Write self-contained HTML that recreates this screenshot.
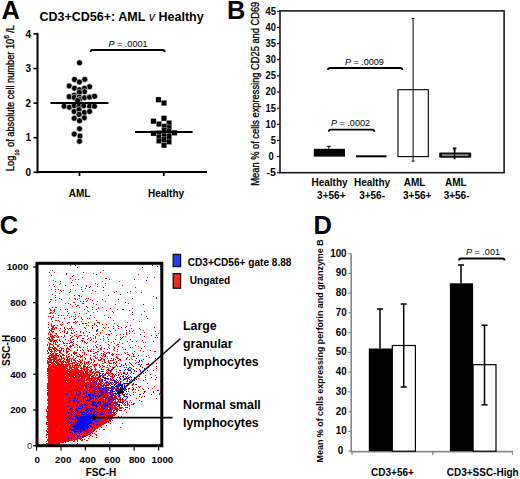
<!DOCTYPE html>
<html><head><meta charset="utf-8"><style>
html,body{margin:0;padding:0;background:#fff;width:520px;height:479px;overflow:hidden}
svg{display:block}
text{font-family:"Liberation Sans",sans-serif;fill:#000}
</style></head><body>
<svg width="520" height="479" viewBox="0 0 520 479">
<text x="1.6" y="19.0" font-size="25.5" font-weight="bold" text-anchor="start" >A</text>
<text x="39.4" y="21.4" font-size="12.5" font-weight="bold" textLength="164.3" lengthAdjust="spacingAndGlyphs">CD3+CD56+: AML <tspan font-style="italic" font-weight="normal">v</tspan> Healthy</text>
<path d="M37.5 32.8 V173.3" stroke="#000" stroke-width="2"/>
<path d="M36.5 172.0 H207" stroke="#000" stroke-width="2.2"/>
<path d="M33.5 172.3 H37.5" stroke="#000" stroke-width="1.6"/>
<text x="31" y="175.9" font-size="10" font-weight="bold" text-anchor="end" >0</text>
<path d="M33.5 137.7 H37.5" stroke="#000" stroke-width="1.6"/>
<text x="31" y="141.3" font-size="10" font-weight="bold" text-anchor="end" >1</text>
<path d="M33.5 103.1 H37.5" stroke="#000" stroke-width="1.6"/>
<text x="31" y="106.7" font-size="10" font-weight="bold" text-anchor="end" >2</text>
<path d="M33.5 68.5 H37.5" stroke="#000" stroke-width="1.6"/>
<text x="31" y="72.1" font-size="10" font-weight="bold" text-anchor="end" >3</text>
<path d="M33.5 33.9 H37.5" stroke="#000" stroke-width="1.6"/>
<text x="31" y="37.50000000000001" font-size="10" font-weight="bold" text-anchor="end" >4</text>
<path d="M79.5 172.3 V176" stroke="#000" stroke-width="1.8"/>
<path d="M163.8 172.3 V176" stroke="#000" stroke-width="1.8"/>
<text x="79.5" y="196.5" font-size="10" font-weight="bold" text-anchor="middle" >AML</text>
<text x="166" y="196.5" font-size="10" font-weight="bold" text-anchor="middle" >Healthy</text>
<text transform="translate(13.5,171) rotate(-90)" font-size="10" style="stroke:#000;stroke-width:0.3" textLength="146" lengthAdjust="spacingAndGlyphs">Log<tspan font-size="6" dy="5.5">10</tspan><tspan dy="-5.5"> of absolute cell number 10</tspan><tspan font-size="7" dy="-4.5">6</tspan><tspan dy="4.5"> /L</tspan></text>
<path d="M90.6 52 Q90.6 50 92.6 50 H162.6 Q164.6 50 164.6 52" fill="none" stroke="#000" stroke-width="2"/>
<text x="108.5" y="46.5" font-size="9.05"><tspan font-style="italic">P</tspan> = .0001</text>
<circle cx="79.5" cy="62.8" r="3.0" stroke="#fff" stroke-width="0.6"/>
<circle cx="74.5" cy="79.5" r="3.0" stroke="#fff" stroke-width="0.6"/>
<circle cx="84.8" cy="79.4" r="3.0" stroke="#fff" stroke-width="0.6"/>
<circle cx="79.4" cy="82.1" r="3.0" stroke="#fff" stroke-width="0.6"/>
<circle cx="69.2" cy="85.9" r="3.0" stroke="#fff" stroke-width="0.6"/>
<circle cx="89.6" cy="86.7" r="3.0" stroke="#fff" stroke-width="0.6"/>
<circle cx="74.5" cy="88.2" r="3.0" stroke="#fff" stroke-width="0.6"/>
<circle cx="79.4" cy="89.8" r="3.0" stroke="#fff" stroke-width="0.6"/>
<circle cx="84.5" cy="88.2" r="3.0" stroke="#fff" stroke-width="0.6"/>
<circle cx="84.5" cy="91.7" r="3.0" stroke="#fff" stroke-width="0.6"/>
<circle cx="79.4" cy="92.5" r="3.0" stroke="#fff" stroke-width="0.6"/>
<circle cx="69.2" cy="96.7" r="3.0" stroke="#fff" stroke-width="0.6"/>
<circle cx="74.2" cy="95.2" r="3.0" stroke="#fff" stroke-width="0.6"/>
<circle cx="74.2" cy="97.5" r="3.0" stroke="#fff" stroke-width="0.6"/>
<circle cx="79.2" cy="97.1" r="3.0" stroke="#fff" stroke-width="0.6"/>
<circle cx="79.6" cy="99.4" r="3.0" stroke="#fff" stroke-width="0.6"/>
<circle cx="84.5" cy="97.8" r="3.0" stroke="#fff" stroke-width="0.6"/>
<circle cx="89.6" cy="97.1" r="3.0" stroke="#fff" stroke-width="0.6"/>
<circle cx="94.6" cy="96.3" r="3.0" stroke="#fff" stroke-width="0.6"/>
<circle cx="77.7" cy="100.5" r="3.0" stroke="#fff" stroke-width="0.6"/>
<circle cx="64.1" cy="106.25" r="3.0" stroke="#fff" stroke-width="0.6"/>
<circle cx="69.4" cy="107.2" r="3.0" stroke="#fff" stroke-width="0.6"/>
<circle cx="74.2" cy="105.8" r="3.0" stroke="#fff" stroke-width="0.6"/>
<circle cx="79" cy="106.25" r="3.0" stroke="#fff" stroke-width="0.6"/>
<circle cx="83.8" cy="105.8" r="3.0" stroke="#fff" stroke-width="0.6"/>
<circle cx="89.6" cy="106.25" r="3.0" stroke="#fff" stroke-width="0.6"/>
<circle cx="94.4" cy="106.25" r="3.0" stroke="#fff" stroke-width="0.6"/>
<circle cx="74.2" cy="111.5" r="3.0" stroke="#fff" stroke-width="0.6"/>
<circle cx="79" cy="109.6" r="3.0" stroke="#fff" stroke-width="0.6"/>
<circle cx="84.3" cy="112.5" r="3.0" stroke="#fff" stroke-width="0.6"/>
<circle cx="89.6" cy="111.5" r="3.0" stroke="#fff" stroke-width="0.6"/>
<circle cx="79" cy="114.4" r="3.0" stroke="#fff" stroke-width="0.6"/>
<circle cx="74.2" cy="118.3" r="3.0" stroke="#fff" stroke-width="0.6"/>
<circle cx="84.3" cy="117.8" r="3.0" stroke="#fff" stroke-width="0.6"/>
<circle cx="79.5" cy="120.7" r="3.0" stroke="#fff" stroke-width="0.6"/>
<circle cx="79.5" cy="128.8" r="3.0" stroke="#fff" stroke-width="0.6"/>
<circle cx="74.2" cy="134.1" r="3.0" stroke="#fff" stroke-width="0.6"/>
<circle cx="80" cy="136.1" r="3.0" stroke="#fff" stroke-width="0.6"/>
<circle cx="79.5" cy="141.3" r="3.0" stroke="#fff" stroke-width="0.6"/>
<rect x="155.75" y="96.95" width="5.5" height="5.5" stroke="#fff" stroke-width="0.3"/>
<rect x="161.25" y="100.25" width="5.5" height="5.5" stroke="#fff" stroke-width="0.3"/>
<rect x="150.75" y="118.45" width="5.5" height="5.5" stroke="#fff" stroke-width="0.3"/>
<rect x="161.25" y="115.55" width="5.5" height="5.5" stroke="#fff" stroke-width="0.3"/>
<rect x="156.25" y="121.25" width="5.5" height="5.5" stroke="#fff" stroke-width="0.3"/>
<rect x="166.25" y="120.25" width="5.5" height="5.5" stroke="#fff" stroke-width="0.3"/>
<rect x="161.55" y="123.55" width="5.5" height="5.5" stroke="#fff" stroke-width="0.3"/>
<rect x="166.25" y="124.95" width="5.5" height="5.5" stroke="#fff" stroke-width="0.3"/>
<rect x="161.55" y="127.65" width="5.5" height="5.5" stroke="#fff" stroke-width="0.3"/>
<rect x="150.75" y="130.55" width="5.5" height="5.5" stroke="#fff" stroke-width="0.3"/>
<rect x="156.25" y="130.25" width="5.5" height="5.5" stroke="#fff" stroke-width="0.3"/>
<rect x="166.25" y="128.95" width="5.5" height="5.5" stroke="#fff" stroke-width="0.3"/>
<rect x="171.65" y="130.05" width="5.5" height="5.5" stroke="#fff" stroke-width="0.3"/>
<rect x="156.25" y="134.35" width="5.5" height="5.5" stroke="#fff" stroke-width="0.3"/>
<rect x="161.55" y="133.05" width="5.5" height="5.5" stroke="#fff" stroke-width="0.3"/>
<rect x="166.25" y="133.65" width="5.5" height="5.5" stroke="#fff" stroke-width="0.3"/>
<rect x="161.25" y="136.75" width="5.5" height="5.5" stroke="#fff" stroke-width="0.3"/>
<rect x="156.25" y="138.15" width="5.5" height="5.5" stroke="#fff" stroke-width="0.3"/>
<rect x="166.25" y="139.05" width="5.5" height="5.5" stroke="#fff" stroke-width="0.3"/>
<rect x="161.25" y="142.45" width="5.5" height="5.5" stroke="#fff" stroke-width="0.3"/>
<path d="M50.5 103 H108.5" stroke="#000" stroke-width="2"/>
<path d="M135 132.1 H192.6" stroke="#000" stroke-width="2"/>
<text x="226.9" y="18.5" font-size="25.5" font-weight="bold" text-anchor="start" >B</text>
<text transform="translate(258.5,185.7) rotate(-90)" font-size="10.2" style="stroke:#000;stroke-width:0.3" textLength="184" lengthAdjust="spacingAndGlyphs">Mean % of cells expressing CD25 and CD69</text>
<rect x="280" y="10.9" width="224.1" height="161.8" fill="none" stroke="#1a1a1a" stroke-width="1.6"/>
<path d="M277 172.8 H280" stroke="#1a1a1a" stroke-width="1.2"/>
<text x="276" y="176.15" font-size="10.2" font-weight="bold" text-anchor="end" textLength="9.5" lengthAdjust="spacingAndGlyphs">-5</text>
<path d="M277 156.6 H280" stroke="#1a1a1a" stroke-width="1.2"/>
<text x="273.8" y="160.0" font-size="10.2" font-weight="bold" text-anchor="end" textLength="5.2" lengthAdjust="spacingAndGlyphs">0</text>
<path d="M277 140.4 H280" stroke="#1a1a1a" stroke-width="1.2"/>
<text x="276" y="143.85" font-size="10.2" font-weight="bold" text-anchor="end" textLength="5.2" lengthAdjust="spacingAndGlyphs">5</text>
<path d="M277 124.3 H280" stroke="#1a1a1a" stroke-width="1.2"/>
<text x="276" y="127.7" font-size="10.2" font-weight="bold" text-anchor="end" textLength="10.4" lengthAdjust="spacingAndGlyphs">10</text>
<path d="M277 108.2 H280" stroke="#1a1a1a" stroke-width="1.2"/>
<text x="276" y="111.55000000000001" font-size="10.2" font-weight="bold" text-anchor="end" textLength="10.4" lengthAdjust="spacingAndGlyphs">15</text>
<path d="M277 92.0 H280" stroke="#1a1a1a" stroke-width="1.2"/>
<text x="276" y="95.4" font-size="10.2" font-weight="bold" text-anchor="end" textLength="10.4" lengthAdjust="spacingAndGlyphs">20</text>
<path d="M277 75.9 H280" stroke="#1a1a1a" stroke-width="1.2"/>
<text x="276" y="79.25000000000001" font-size="10.2" font-weight="bold" text-anchor="end" textLength="10.4" lengthAdjust="spacingAndGlyphs">25</text>
<path d="M277 59.7 H280" stroke="#1a1a1a" stroke-width="1.2"/>
<text x="276" y="63.1" font-size="10.2" font-weight="bold" text-anchor="end" textLength="10.4" lengthAdjust="spacingAndGlyphs">30</text>
<path d="M277 43.6 H280" stroke="#1a1a1a" stroke-width="1.2"/>
<text x="276" y="46.95000000000001" font-size="10.2" font-weight="bold" text-anchor="end" textLength="10.4" lengthAdjust="spacingAndGlyphs">35</text>
<path d="M277 27.4 H280" stroke="#1a1a1a" stroke-width="1.2"/>
<text x="276" y="30.800000000000004" font-size="10.2" font-weight="bold" text-anchor="end" textLength="10.4" lengthAdjust="spacingAndGlyphs">40</text>
<path d="M277 11.3 H280" stroke="#1a1a1a" stroke-width="1.2"/>
<text x="276" y="14.650000000000029" font-size="10.2" font-weight="bold" text-anchor="end" textLength="10.4" lengthAdjust="spacingAndGlyphs">45</text>
<rect x="313.8" y="148.8" width="31.2" height="7.8" fill="#000"/>
<path d="M328.8 146.3 V148.8 M326.8 146.3 H330.8" stroke="#000" stroke-width="1"/>
<rect x="356" y="155.3" width="30.5" height="2" fill="#000"/>
<rect x="398" y="89.7" width="30.3" height="66.9" fill="#fff" stroke="#000" stroke-width="1.1"/>
<path d="M413.1 18.4 V161.1 M411.6 18.4 H414.6 M411.6 161.1 H414.6" stroke="#000" stroke-width="1"/>
<rect x="439.2" y="152.4" width="32" height="5.4" fill="#111" rx="1.2"/>
<path d="M442 155.1 H468.5" stroke="#e0e0e0" stroke-width="1"/>
<path d="M454.6 147.8 V159.2 M452.8 148.3 H456.4" stroke="#000" stroke-width="1.7"/>
<path d="M328.8 131.7 Q328.8 129.7 330.8 129.7 H372.3 Q374.3 129.7 374.3 131.7" fill="none" stroke="#000" stroke-width="1.8"/>
<text x="331" y="126.2" font-size="9.05"><tspan font-style="italic">P</tspan> = .0002</text>
<path d="M328 70 Q328 68 330 68 H400.4 Q402.4 68 402.4 70" fill="none" stroke="#000" stroke-width="1.8"/>
<text x="344.9" y="64.8" font-size="9.05"><tspan font-style="italic">P</tspan> = .0009</text>
<text x="329.5" y="185.6" font-size="10" font-weight="bold" text-anchor="middle" >Healthy</text>
<text x="331.3" y="198.6" font-size="10" font-weight="bold" text-anchor="middle" >3+56+</text>
<text x="372" y="185.6" font-size="10" font-weight="bold" text-anchor="middle" >Healthy</text>
<text x="372.1" y="198.6" font-size="10" font-weight="bold" text-anchor="middle" >3+56-</text>
<text x="414.6" y="185.6" font-size="10" font-weight="bold" text-anchor="middle" >AML</text>
<text x="417.2" y="198.6" font-size="10" font-weight="bold" text-anchor="middle" >3+56+</text>
<text x="455.9" y="185.6" font-size="10" font-weight="bold" text-anchor="middle" >AML</text>
<text x="456.6" y="198.6" font-size="10" font-weight="bold" text-anchor="middle" >3+56-</text>
<text x="-0.2" y="234.0" font-size="25.5" font-weight="bold" text-anchor="start" >C</text>
<g><path fill="#ff0000" d="M70 265h1v1h-1zM75 265h1v1h-1zM152 265h1v1h-1zM52 270h1v1h-1zM103 270h1v1h-1zM49 272h1v1h-1zM54 272h1v1h-1zM83 272h1v1h-1zM100 272h1v1h-1zM66 273h1v1h-1zM93 273h1v1h-1zM66 274h1v1h-1zM138 274h1v1h-1zM51 275h1v1h-1zM73 275h1v1h-1zM72 276h1v1h-1zM82 277h1v1h-1zM147 277h1v1h-1zM154 277h1v1h-1zM70 278h1v1h-1zM106 278h1v1h-1zM75 279h1v1h-1zM78 279h1v1h-1zM109 279h1v1h-1zM53 280h1v1h-1zM72 280h1v1h-1zM55 281h1v1h-1zM60 281h1v1h-1zM102 281h1v1h-1zM119 281h1v1h-1zM71 282h1v1h-1zM60 283h1v1h-1zM95 283h1v1h-1zM105 283h1v1h-1zM53 284h1v1h-1zM59 284h1v1h-1zM77 284h1v1h-1zM97 284h1v1h-1zM49 285h1v1h-1zM73 285h1v1h-1zM86 285h1v1h-1zM122 285h1v1h-1zM54 286h1v1h-1zM90 286h1v1h-1zM97 286h1v1h-1zM81 287h1v1h-1zM89 287h1v1h-1zM135 287h1v1h-1zM85 288h1v1h-1zM51 289h1v1h-1zM55 289h1v1h-1zM58 289h1v1h-1zM70 289h1v1h-1zM81 289h1v1h-1zM60 290h1v1h-1zM63 290h1v1h-1zM75 290h1v1h-1zM92 290h1v1h-1zM103 290h1v1h-1zM55 291h1v1h-1zM61 291h1v1h-1zM70 291h1v1h-1zM82 291h1v1h-1zM95 291h1v1h-1zM116 291h1v1h-1zM130 291h1v1h-1zM69 292h1v1h-1zM114 292h1v1h-1zM127 292h1v1h-1zM141 292h1v1h-1zM59 293h1v1h-1zM91 293h1v1h-1zM52 294h1v1h-1zM55 295h1v1h-1zM74 295h1v1h-1zM78 295h2v1h-2zM108 295h1v1h-1zM79 296h1v1h-1zM81 296h1v1h-1zM153 296h1v1h-1zM55 297h1v1h-1zM156 297h1v1h-1zM59 298h1v1h-1zM69 298h1v1h-1zM74 298h2v1h-2zM79 298h1v1h-1zM86 298h1v1h-1zM88 298h1v1h-1zM50 299h2v1h-2zM61 299h1v1h-1zM75 299h1v1h-1zM77 299h1v1h-1zM85 299h1v1h-1zM90 299h1v1h-1zM102 299h1v1h-1zM55 300h1v1h-1zM87 300h1v1h-1zM92 300h1v1h-1zM50 301h1v1h-1zM80 301h1v1h-1zM83 301h1v1h-1zM97 301h1v1h-1zM105 301h1v1h-1zM49 302h1v1h-1zM73 302h2v1h-2zM65 303h1v1h-1zM68 303h1v1h-1zM82 303h2v1h-2zM93 303h1v1h-1zM128 303h1v1h-1zM70 304h1v1h-1zM75 304h1v1h-1zM96 304h1v1h-1zM115 304h1v1h-1zM77 305h2v1h-2zM72 306h1v1h-1zM76 306h1v1h-1zM86 306h1v1h-1zM52 307h1v1h-1zM55 307h2v1h-2zM79 307h1v1h-1zM87 307h1v1h-1zM92 307h1v1h-1zM98 307h1v1h-1zM102 307h1v1h-1zM49 308h1v1h-1zM98 308h1v1h-1zM110 308h1v1h-1zM132 308h1v1h-1zM153 308h1v1h-1zM50 309h1v1h-1zM54 309h1v1h-1zM60 309h1v1h-1zM65 309h1v1h-1zM67 309h1v1h-1zM84 309h1v1h-1zM92 309h1v1h-1zM96 309h1v1h-1zM117 309h1v1h-1zM50 310h2v1h-2zM53 310h2v1h-2zM87 310h1v1h-1zM106 310h1v1h-1zM129 310h1v1h-1zM54 311h1v1h-1zM67 311h1v1h-1zM88 311h1v1h-1zM97 311h1v1h-1zM112 311h1v1h-1zM144 311h1v1h-1zM50 312h2v1h-2zM53 312h1v1h-1zM74 312h1v1h-1zM93 312h1v1h-1zM113 312h1v1h-1zM49 313h2v1h-2zM52 313h1v1h-1zM55 313h1v1h-1zM68 313h1v1h-1zM79 313h1v1h-1zM86 313h1v1h-1zM75 314h1v1h-1zM132 314h1v1h-1zM141 314h1v1h-1zM53 315h1v1h-1zM58 315h1v1h-1zM61 315h1v1h-1zM63 315h1v1h-1zM67 315h1v1h-1zM104 315h1v1h-1zM48 316h1v1h-1zM50 316h1v1h-1zM71 316h1v1h-1zM73 316h1v1h-1zM75 316h1v1h-1zM78 316h1v1h-1zM146 316h1v1h-1zM52 317h2v1h-2zM58 317h1v1h-1zM69 317h1v1h-1zM81 317h1v1h-1zM94 317h1v1h-1zM110 317h1v1h-1zM51 318h1v1h-1zM64 318h1v1h-1zM75 318h1v1h-1zM81 318h1v1h-1zM87 318h1v1h-1zM89 318h1v1h-1zM51 319h1v1h-1zM82 319h1v1h-1zM133 319h1v1h-1zM55 320h2v1h-2zM58 320h1v1h-1zM96 320h1v1h-1zM113 320h1v1h-1zM52 321h1v1h-1zM59 321h1v1h-1zM75 321h1v1h-1zM77 321h1v1h-1zM81 321h1v1h-1zM139 321h1v1h-1zM48 322h1v1h-1zM62 322h1v1h-1zM68 322h2v1h-2zM73 322h2v1h-2zM76 322h1v1h-1zM88 322h1v1h-1zM97 322h3v1h-3zM127 322h1v1h-1zM51 323h1v1h-1zM67 323h1v1h-1zM75 323h1v1h-1zM82 323h2v1h-2zM85 323h2v1h-2zM94 323h1v1h-1zM99 323h1v1h-1zM114 323h1v1h-1zM48 324h1v1h-1zM51 324h1v1h-1zM60 324h1v1h-1zM62 324h1v1h-1zM79 324h1v1h-1zM94 324h1v1h-1zM102 324h1v1h-1zM106 324h1v1h-1zM51 325h1v1h-1zM53 325h2v1h-2zM57 325h1v1h-1zM61 325h1v1h-1zM86 325h1v1h-1zM88 325h1v1h-1zM92 325h1v1h-1zM117 325h1v1h-1zM130 325h1v1h-1zM51 326h3v1h-3zM71 326h1v1h-1zM97 326h1v1h-1zM113 326h1v1h-1zM118 326h1v1h-1zM126 326h1v1h-1zM48 327h1v1h-1zM52 327h2v1h-2zM55 327h2v1h-2zM64 327h1v1h-1zM71 327h1v1h-1zM84 327h1v1h-1zM103 327h1v1h-1zM105 327h1v1h-1zM108 327h1v1h-1zM125 327h1v1h-1zM154 327h1v1h-1zM51 328h2v1h-2zM54 328h1v1h-1zM56 328h1v1h-1zM60 328h1v1h-1zM64 328h1v1h-1zM69 328h2v1h-2zM72 328h1v1h-1zM85 328h1v1h-1zM92 328h1v1h-1zM104 328h1v1h-1zM113 328h1v1h-1zM118 328h1v1h-1zM131 328h1v1h-1zM139 328h1v1h-1zM49 329h1v1h-1zM51 329h4v1h-4zM65 329h1v1h-1zM68 329h1v1h-1zM97 329h1v1h-1zM140 329h1v1h-1zM50 330h2v1h-2zM59 330h1v1h-1zM64 330h1v1h-1zM71 330h1v1h-1zM73 330h1v1h-1zM97 330h1v1h-1zM102 330h1v1h-1zM109 330h1v1h-1zM115 330h1v1h-1zM129 330h1v1h-1zM133 330h1v1h-1zM143 330h1v1h-1zM49 331h1v1h-1zM51 331h3v1h-3zM62 331h1v1h-1zM64 331h1v1h-1zM67 331h1v1h-1zM76 331h1v1h-1zM80 331h1v1h-1zM86 331h1v1h-1zM96 331h1v1h-1zM110 331h1v1h-1zM129 331h1v1h-1zM49 332h1v1h-1zM52 332h1v1h-1zM60 332h1v1h-1zM64 332h1v1h-1zM67 332h1v1h-1zM71 332h1v1h-1zM74 332h1v1h-1zM80 332h1v1h-1zM83 332h1v1h-1zM100 332h1v1h-1zM126 332h1v1h-1zM144 332h1v1h-1zM48 333h1v1h-1zM50 333h1v1h-1zM55 333h2v1h-2zM66 333h2v1h-2zM71 333h2v1h-2zM83 333h1v1h-1zM97 333h1v1h-1zM100 333h1v1h-1zM111 333h1v1h-1zM126 333h1v1h-1zM129 333h1v1h-1zM134 333h1v1h-1zM158 333h1v1h-1zM48 334h1v1h-1zM50 334h2v1h-2zM56 334h1v1h-1zM76 334h1v1h-1zM96 334h1v1h-1zM106 334h1v1h-1zM108 334h2v1h-2zM120 334h1v1h-1zM123 334h1v1h-1zM126 334h1v1h-1zM50 335h1v1h-1zM52 335h1v1h-1zM54 335h2v1h-2zM57 335h1v1h-1zM64 335h1v1h-1zM70 335h1v1h-1zM74 335h1v1h-1zM79 335h3v1h-3zM84 335h1v1h-1zM87 335h1v1h-1zM93 335h1v1h-1zM99 335h1v1h-1zM109 335h1v1h-1zM116 335h1v1h-1zM151 335h1v1h-1zM156 335h1v1h-1zM50 336h4v1h-4zM56 336h1v1h-1zM58 336h1v1h-1zM61 336h1v1h-1zM72 336h1v1h-1zM76 336h1v1h-1zM78 336h1v1h-1zM87 336h1v1h-1zM95 336h1v1h-1zM103 336h1v1h-1zM123 336h1v1h-1zM125 336h1v1h-1zM144 336h1v1h-1zM48 337h2v1h-2zM51 337h4v1h-4zM57 337h2v1h-2zM63 337h1v1h-1zM71 337h1v1h-1zM77 337h1v1h-1zM90 337h1v1h-1zM95 337h1v1h-1zM107 337h1v1h-1zM120 337h1v1h-1zM122 337h1v1h-1zM155 337h1v1h-1zM157 337h1v1h-1zM47 338h1v1h-1zM49 338h1v1h-1zM51 338h2v1h-2zM70 338h1v1h-1zM82 338h2v1h-2zM88 338h1v1h-1zM93 338h1v1h-1zM95 338h1v1h-1zM103 338h1v1h-1zM121 338h1v1h-1zM48 339h3v1h-3zM52 339h2v1h-2zM57 339h1v1h-1zM59 339h1v1h-1zM65 339h1v1h-1zM72 339h2v1h-2zM87 339h1v1h-1zM91 339h1v1h-1zM100 339h1v1h-1zM108 339h1v1h-1zM115 339h1v1h-1zM120 339h1v1h-1zM130 339h1v1h-1zM49 340h4v1h-4zM54 340h3v1h-3zM59 340h1v1h-1zM68 340h1v1h-1zM81 340h2v1h-2zM90 340h1v1h-1zM103 340h1v1h-1zM142 340h1v1h-1zM50 341h2v1h-2zM53 341h2v1h-2zM56 341h1v1h-1zM60 341h1v1h-1zM62 341h1v1h-1zM71 341h1v1h-1zM73 341h1v1h-1zM77 341h1v1h-1zM82 341h1v1h-1zM84 341h1v1h-1zM93 341h1v1h-1zM96 341h1v1h-1zM108 341h1v1h-1zM113 341h1v1h-1zM127 341h1v1h-1zM132 341h1v1h-1zM136 341h1v1h-1zM48 342h1v1h-1zM53 342h1v1h-1zM55 342h1v1h-1zM57 342h1v1h-1zM63 342h1v1h-1zM70 342h1v1h-1zM72 342h1v1h-1zM84 342h2v1h-2zM87 342h1v1h-1zM95 342h1v1h-1zM105 342h1v1h-1zM111 342h1v1h-1zM119 342h1v1h-1zM143 342h1v1h-1zM145 342h1v1h-1zM160 342h1v1h-1zM49 343h2v1h-2zM53 343h1v1h-1zM55 343h1v1h-1zM63 343h2v1h-2zM66 343h2v1h-2zM69 343h1v1h-1zM73 343h1v1h-1zM86 343h1v1h-1zM114 343h1v1h-1zM122 343h1v1h-1zM47 344h1v1h-1zM49 344h4v1h-4zM55 344h2v1h-2zM59 344h1v1h-1zM72 344h1v1h-1zM76 344h1v1h-1zM97 344h1v1h-1zM108 344h1v1h-1zM117 344h2v1h-2zM47 345h1v1h-1zM49 345h1v1h-1zM53 345h1v1h-1zM57 345h2v1h-2zM64 345h1v1h-1zM66 345h1v1h-1zM72 345h2v1h-2zM77 345h1v1h-1zM95 345h1v1h-1zM100 345h1v1h-1zM109 345h1v1h-1zM116 345h1v1h-1zM129 345h1v1h-1zM135 345h1v1h-1zM49 346h1v1h-1zM53 346h1v1h-1zM57 346h2v1h-2zM69 346h3v1h-3zM79 346h1v1h-1zM87 346h1v1h-1zM93 346h1v1h-1zM96 346h1v1h-1zM113 346h1v1h-1zM118 346h1v1h-1zM138 346h1v1h-1zM144 346h1v1h-1zM48 347h5v1h-5zM54 347h2v1h-2zM60 347h1v1h-1zM67 347h1v1h-1zM70 347h1v1h-1zM74 347h1v1h-1zM77 347h1v1h-1zM79 347h2v1h-2zM83 347h1v1h-1zM96 347h2v1h-2zM101 347h1v1h-1zM108 347h1v1h-1zM114 347h1v1h-1zM122 347h1v1h-1zM132 347h1v1h-1zM48 348h2v1h-2zM52 348h5v1h-5zM59 348h1v1h-1zM61 348h3v1h-3zM66 348h3v1h-3zM87 348h1v1h-1zM100 348h2v1h-2zM104 348h1v1h-1zM109 348h1v1h-1zM114 348h1v1h-1zM141 348h1v1h-1zM48 349h4v1h-4zM53 349h2v1h-2zM56 349h2v1h-2zM61 349h1v1h-1zM66 349h1v1h-1zM68 349h2v1h-2zM77 349h1v1h-1zM82 349h1v1h-1zM91 349h1v1h-1zM93 349h1v1h-1zM98 349h1v1h-1zM100 349h2v1h-2zM107 349h1v1h-1zM113 349h1v1h-1zM117 349h1v1h-1zM123 349h1v1h-1zM125 349h1v1h-1zM47 350h1v1h-1zM49 350h1v1h-1zM51 350h1v1h-1zM54 350h2v1h-2zM57 350h5v1h-5zM63 350h1v1h-1zM66 350h1v1h-1zM70 350h1v1h-1zM77 350h1v1h-1zM80 350h1v1h-1zM83 350h1v1h-1zM87 350h2v1h-2zM90 350h1v1h-1zM114 350h1v1h-1zM140 350h1v1h-1zM150 350h1v1h-1zM47 351h1v1h-1zM50 351h3v1h-3zM54 351h1v1h-1zM56 351h1v1h-1zM59 351h2v1h-2zM63 351h1v1h-1zM66 351h3v1h-3zM74 351h1v1h-1zM88 351h1v1h-1zM91 351h1v1h-1zM93 351h1v1h-1zM97 351h2v1h-2zM103 351h1v1h-1zM117 351h1v1h-1zM134 351h1v1h-1zM143 351h1v1h-1zM154 351h1v1h-1zM48 352h1v1h-1zM51 352h1v1h-1zM54 352h1v1h-1zM59 352h2v1h-2zM66 352h2v1h-2zM73 352h4v1h-4zM82 352h1v1h-1zM84 352h1v1h-1zM95 352h2v1h-2zM104 352h1v1h-1zM107 352h3v1h-3zM124 352h1v1h-1zM127 352h1v1h-1zM47 353h2v1h-2zM50 353h1v1h-1zM52 353h2v1h-2zM55 353h3v1h-3zM60 353h2v1h-2zM66 353h1v1h-1zM69 353h1v1h-1zM73 353h4v1h-4zM84 353h1v1h-1zM93 353h2v1h-2zM101 353h1v1h-1zM103 353h1v1h-1zM106 353h1v1h-1zM109 353h1v1h-1zM112 353h1v1h-1zM125 353h1v1h-1zM132 353h1v1h-1zM50 354h4v1h-4zM55 354h2v1h-2zM59 354h1v1h-1zM62 354h2v1h-2zM68 354h1v1h-1zM71 354h1v1h-1zM74 354h1v1h-1zM79 354h1v1h-1zM84 354h1v1h-1zM86 354h1v1h-1zM97 354h1v1h-1zM103 354h3v1h-3zM111 354h3v1h-3zM116 354h1v1h-1zM118 354h1v1h-1zM121 354h1v1h-1zM127 354h2v1h-2zM133 354h1v1h-1zM49 355h10v1h-10zM60 355h1v1h-1zM62 355h3v1h-3zM66 355h1v1h-1zM71 355h1v1h-1zM76 355h1v1h-1zM80 355h1v1h-1zM82 355h1v1h-1zM90 355h1v1h-1zM95 355h1v1h-1zM101 355h1v1h-1zM103 355h1v1h-1zM105 355h1v1h-1zM112 355h1v1h-1zM129 355h1v1h-1zM133 355h1v1h-1zM148 355h1v1h-1zM48 356h2v1h-2zM51 356h6v1h-6zM58 356h1v1h-1zM60 356h2v1h-2zM66 356h1v1h-1zM68 356h2v1h-2zM73 356h1v1h-1zM77 356h2v1h-2zM80 356h3v1h-3zM93 356h2v1h-2zM102 356h1v1h-1zM104 356h2v1h-2zM107 356h1v1h-1zM116 356h1v1h-1zM131 356h1v1h-1zM134 356h1v1h-1zM49 357h8v1h-8zM61 357h1v1h-1zM63 357h1v1h-1zM66 357h3v1h-3zM73 357h1v1h-1zM76 357h1v1h-1zM80 357h1v1h-1zM84 357h1v1h-1zM90 357h1v1h-1zM95 357h1v1h-1zM97 357h1v1h-1zM100 357h1v1h-1zM116 357h2v1h-2zM127 357h1v1h-1zM149 357h1v1h-1zM47 358h4v1h-4zM53 358h4v1h-4zM59 358h1v1h-1zM61 358h4v1h-4zM67 358h1v1h-1zM69 358h2v1h-2zM72 358h1v1h-1zM75 358h1v1h-1zM85 358h1v1h-1zM90 358h1v1h-1zM95 358h2v1h-2zM101 358h2v1h-2zM107 358h1v1h-1zM113 358h1v1h-1zM117 358h2v1h-2zM126 358h1v1h-1zM131 358h1v1h-1zM48 359h9v1h-9zM58 359h1v1h-1zM60 359h2v1h-2zM64 359h1v1h-1zM66 359h4v1h-4zM71 359h1v1h-1zM73 359h2v1h-2zM79 359h1v1h-1zM82 359h1v1h-1zM85 359h1v1h-1zM90 359h2v1h-2zM93 359h1v1h-1zM98 359h1v1h-1zM100 359h2v1h-2zM103 359h2v1h-2zM113 359h1v1h-1zM115 359h1v1h-1zM119 359h1v1h-1zM126 359h1v1h-1zM129 359h1v1h-1zM132 359h1v1h-1zM47 360h1v1h-1zM49 360h3v1h-3zM53 360h2v1h-2zM56 360h3v1h-3zM60 360h1v1h-1zM63 360h1v1h-1zM66 360h4v1h-4zM71 360h1v1h-1zM73 360h3v1h-3zM77 360h1v1h-1zM80 360h1v1h-1zM82 360h1v1h-1zM91 360h1v1h-1zM94 360h1v1h-1zM98 360h3v1h-3zM104 360h1v1h-1zM108 360h1v1h-1zM110 360h4v1h-4zM118 360h1v1h-1zM120 360h1v1h-1zM135 360h1v1h-1zM47 361h5v1h-5zM53 361h5v1h-5zM59 361h7v1h-7zM67 361h3v1h-3zM71 361h1v1h-1zM75 361h1v1h-1zM78 361h4v1h-4zM84 361h1v1h-1zM88 361h2v1h-2zM94 361h1v1h-1zM102 361h1v1h-1zM104 361h1v1h-1zM108 361h1v1h-1zM116 361h1v1h-1zM142 361h1v1h-1zM47 362h7v1h-7zM55 362h4v1h-4zM60 362h4v1h-4zM65 362h4v1h-4zM72 362h3v1h-3zM76 362h1v1h-1zM80 362h2v1h-2zM84 362h1v1h-1zM86 362h3v1h-3zM91 362h1v1h-1zM93 362h1v1h-1zM104 362h2v1h-2zM108 362h2v1h-2zM113 362h2v1h-2zM116 362h1v1h-1zM129 362h1v1h-1zM136 362h1v1h-1zM47 363h2v1h-2zM51 363h4v1h-4zM56 363h4v1h-4zM61 363h2v1h-2zM66 363h1v1h-1zM68 363h5v1h-5zM74 363h1v1h-1zM77 363h2v1h-2zM80 363h1v1h-1zM82 363h1v1h-1zM84 363h1v1h-1zM86 363h1v1h-1zM88 363h1v1h-1zM90 363h1v1h-1zM97 363h1v1h-1zM102 363h2v1h-2zM109 363h3v1h-3zM113 363h1v1h-1zM115 363h1v1h-1zM119 363h1v1h-1zM130 363h1v1h-1zM135 363h1v1h-1zM48 364h3v1h-3zM52 364h4v1h-4zM57 364h13v1h-13zM72 364h1v1h-1zM75 364h3v1h-3zM79 364h1v1h-1zM81 364h1v1h-1zM84 364h2v1h-2zM87 364h1v1h-1zM89 364h1v1h-1zM92 364h1v1h-1zM94 364h3v1h-3zM99 364h1v1h-1zM116 364h1v1h-1zM121 364h1v1h-1zM125 364h1v1h-1zM139 364h1v1h-1zM146 364h3v1h-3zM48 365h16v1h-16zM65 365h6v1h-6zM72 365h1v1h-1zM74 365h1v1h-1zM76 365h5v1h-5zM83 365h2v1h-2zM88 365h1v1h-1zM93 365h4v1h-4zM99 365h1v1h-1zM102 365h1v1h-1zM107 365h1v1h-1zM109 365h1v1h-1zM123 365h1v1h-1zM126 365h1v1h-1zM140 365h1v1h-1zM48 366h20v1h-20zM69 366h2v1h-2zM72 366h1v1h-1zM74 366h1v1h-1zM76 366h1v1h-1zM78 366h1v1h-1zM80 366h1v1h-1zM83 366h3v1h-3zM87 366h1v1h-1zM90 366h2v1h-2zM94 366h1v1h-1zM100 366h1v1h-1zM104 366h1v1h-1zM110 366h1v1h-1zM115 366h1v1h-1zM117 366h1v1h-1zM119 366h1v1h-1zM140 366h1v1h-1zM156 366h1v1h-1zM48 367h19v1h-19zM69 367h6v1h-6zM76 367h3v1h-3zM81 367h1v1h-1zM83 367h2v1h-2zM86 367h4v1h-4zM94 367h1v1h-1zM99 367h1v1h-1zM102 367h1v1h-1zM106 367h2v1h-2zM112 367h2v1h-2zM124 367h1v1h-1zM129 367h2v1h-2zM47 368h6v1h-6zM54 368h14v1h-14zM69 368h3v1h-3zM74 368h4v1h-4zM80 368h5v1h-5zM86 368h2v1h-2zM90 368h1v1h-1zM95 368h1v1h-1zM101 368h1v1h-1zM108 368h1v1h-1zM112 368h1v1h-1zM136 368h1v1h-1zM156 368h1v1h-1zM47 369h19v1h-19zM67 369h3v1h-3zM71 369h8v1h-8zM81 369h1v1h-1zM83 369h6v1h-6zM91 369h2v1h-2zM94 369h3v1h-3zM101 369h3v1h-3zM108 369h1v1h-1zM111 369h2v1h-2zM116 369h1v1h-1zM128 369h1v1h-1zM130 369h1v1h-1zM47 370h20v1h-20zM68 370h15v1h-15zM84 370h1v1h-1zM86 370h2v1h-2zM89 370h3v1h-3zM95 370h1v1h-1zM99 370h1v1h-1zM106 370h1v1h-1zM108 370h2v1h-2zM111 370h1v1h-1zM134 370h1v1h-1zM147 370h1v1h-1zM47 371h37v1h-37zM85 371h3v1h-3zM89 371h3v1h-3zM93 371h2v1h-2zM96 371h3v1h-3zM101 371h1v1h-1zM103 371h1v1h-1zM107 371h1v1h-1zM110 371h2v1h-2zM131 371h1v1h-1zM142 371h1v1h-1zM48 372h20v1h-20zM69 372h15v1h-15zM85 372h4v1h-4zM90 372h4v1h-4zM95 372h5v1h-5zM106 372h1v1h-1zM108 372h1v1h-1zM110 372h1v1h-1zM118 372h1v1h-1zM120 372h1v1h-1zM123 372h2v1h-2zM127 372h1v1h-1zM131 372h1v1h-1zM47 373h32v1h-32zM80 373h8v1h-8zM89 373h1v1h-1zM91 373h2v1h-2zM94 373h2v1h-2zM99 373h1v1h-1zM102 373h1v1h-1zM105 373h2v1h-2zM108 373h2v1h-2zM111 373h1v1h-1zM116 373h1v1h-1zM130 373h1v1h-1zM143 373h1v1h-1zM48 374h30v1h-30zM79 374h8v1h-8zM88 374h4v1h-4zM94 374h1v1h-1zM96 374h2v1h-2zM104 374h2v1h-2zM108 374h1v1h-1zM110 374h1v1h-1zM112 374h2v1h-2zM118 374h2v1h-2zM125 374h1v1h-1zM47 375h18v1h-18zM66 375h23v1h-23zM92 375h3v1h-3zM96 375h2v1h-2zM99 375h7v1h-7zM108 375h2v1h-2zM112 375h1v1h-1zM114 375h1v1h-1zM123 375h1v1h-1zM128 375h1v1h-1zM145 375h1v1h-1zM155 375h1v1h-1zM48 376h26v1h-26zM75 376h14v1h-14zM91 376h3v1h-3zM95 376h1v1h-1zM98 376h1v1h-1zM102 376h1v1h-1zM110 376h1v1h-1zM112 376h1v1h-1zM120 376h1v1h-1zM123 376h1v1h-1zM47 377h22v1h-22zM70 377h4v1h-4zM75 377h3v1h-3zM79 377h1v1h-1zM81 377h5v1h-5zM87 377h3v1h-3zM91 377h6v1h-6zM99 377h2v1h-2zM102 377h3v1h-3zM112 377h1v1h-1zM119 377h1v1h-1zM151 377h1v1h-1zM156 377h1v1h-1zM48 378h51v1h-51zM100 378h1v1h-1zM110 378h1v1h-1zM112 378h1v1h-1zM119 378h1v1h-1zM124 378h1v1h-1zM127 378h2v1h-2zM138 378h1v1h-1zM48 379h37v1h-37zM86 379h10v1h-10zM98 379h5v1h-5zM105 379h1v1h-1zM107 379h2v1h-2zM110 379h2v1h-2zM127 379h1v1h-1zM145 379h1v1h-1zM155 379h1v1h-1zM48 380h30v1h-30zM79 380h8v1h-8zM88 380h7v1h-7zM96 380h1v1h-1zM100 380h2v1h-2zM105 380h1v1h-1zM110 380h1v1h-1zM112 380h2v1h-2zM115 380h1v1h-1zM119 380h1v1h-1zM123 380h1v1h-1zM48 381h18v1h-18zM67 381h18v1h-18zM87 381h1v1h-1zM89 381h2v1h-2zM92 381h2v1h-2zM95 381h3v1h-3zM100 381h1v1h-1zM102 381h1v1h-1zM106 381h1v1h-1zM109 381h1v1h-1zM115 381h1v1h-1zM121 381h1v1h-1zM126 381h2v1h-2zM132 381h1v1h-1zM160 381h1v1h-1zM48 382h43v1h-43zM93 382h3v1h-3zM98 382h1v1h-1zM100 382h2v1h-2zM103 382h1v1h-1zM105 382h1v1h-1zM108 382h1v1h-1zM111 382h1v1h-1zM116 382h1v1h-1zM118 382h1v1h-1zM47 383h37v1h-37zM85 383h18v1h-18zM104 383h2v1h-2zM110 383h1v1h-1zM113 383h1v1h-1zM115 383h1v1h-1zM118 383h1v1h-1zM147 383h1v1h-1zM47 384h41v1h-41zM89 384h11v1h-11zM101 384h1v1h-1zM103 384h2v1h-2zM106 384h1v1h-1zM108 384h1v1h-1zM111 384h2v1h-2zM117 384h1v1h-1zM124 384h1v1h-1zM132 384h2v1h-2zM135 384h1v1h-1zM47 385h38v1h-38zM86 385h4v1h-4zM92 385h3v1h-3zM97 385h2v1h-2zM100 385h3v1h-3zM104 385h1v1h-1zM117 385h2v1h-2zM132 385h1v1h-1zM47 386h38v1h-38zM87 386h4v1h-4zM92 386h2v1h-2zM95 386h2v1h-2zM98 386h1v1h-1zM100 386h2v1h-2zM103 386h1v1h-1zM106 386h1v1h-1zM113 386h1v1h-1zM119 386h1v1h-1zM138 386h1v1h-1zM140 386h1v1h-1zM154 386h1v1h-1zM47 387h31v1h-31zM79 387h1v1h-1zM81 387h3v1h-3zM85 387h1v1h-1zM87 387h3v1h-3zM91 387h1v1h-1zM93 387h4v1h-4zM99 387h3v1h-3zM103 387h2v1h-2zM106 387h1v1h-1zM109 387h2v1h-2zM112 387h2v1h-2zM116 387h1v1h-1zM118 387h1v1h-1zM132 387h1v1h-1zM136 387h1v1h-1zM139 387h1v1h-1zM47 388h47v1h-47zM95 388h3v1h-3zM101 388h1v1h-1zM105 388h1v1h-1zM107 388h3v1h-3zM111 388h1v1h-1zM113 388h4v1h-4zM128 388h2v1h-2zM142 388h1v1h-1zM152 388h1v1h-1zM48 389h26v1h-26zM75 389h2v1h-2zM78 389h4v1h-4zM83 389h6v1h-6zM91 389h4v1h-4zM96 389h3v1h-3zM100 389h2v1h-2zM103 389h3v1h-3zM107 389h1v1h-1zM112 389h2v1h-2zM115 389h1v1h-1zM117 389h1v1h-1zM124 389h2v1h-2zM128 389h1v1h-1zM132 389h2v1h-2zM143 389h1v1h-1zM47 390h37v1h-37zM85 390h12v1h-12zM98 390h3v1h-3zM103 390h3v1h-3zM107 390h3v1h-3zM115 390h1v1h-1zM118 390h1v1h-1zM125 390h1v1h-1zM132 390h1v1h-1zM138 390h1v1h-1zM158 390h1v1h-1zM160 390h1v1h-1zM48 391h22v1h-22zM71 391h7v1h-7zM80 391h6v1h-6zM87 391h2v1h-2zM90 391h4v1h-4zM95 391h1v1h-1zM97 391h1v1h-1zM99 391h1v1h-1zM103 391h2v1h-2zM107 391h1v1h-1zM111 391h1v1h-1zM113 391h1v1h-1zM145 391h1v1h-1zM153 391h1v1h-1zM47 392h24v1h-24zM72 392h4v1h-4zM77 392h3v1h-3zM81 392h5v1h-5zM87 392h7v1h-7zM95 392h4v1h-4zM104 392h1v1h-1zM107 392h2v1h-2zM111 392h2v1h-2zM115 392h1v1h-1zM118 392h2v1h-2zM135 392h1v1h-1zM144 392h1v1h-1zM153 392h1v1h-1zM160 392h1v1h-1zM47 393h20v1h-20zM68 393h8v1h-8zM77 393h3v1h-3zM81 393h2v1h-2zM85 393h5v1h-5zM91 393h3v1h-3zM96 393h2v1h-2zM99 393h3v1h-3zM103 393h1v1h-1zM106 393h4v1h-4zM111 393h1v1h-1zM113 393h2v1h-2zM116 393h2v1h-2zM121 393h1v1h-1zM125 393h1v1h-1zM127 393h1v1h-1zM159 393h1v1h-1zM47 394h19v1h-19zM67 394h4v1h-4zM72 394h4v1h-4zM77 394h2v1h-2zM80 394h6v1h-6zM87 394h1v1h-1zM91 394h1v1h-1zM94 394h4v1h-4zM99 394h2v1h-2zM102 394h1v1h-1zM104 394h1v1h-1zM106 394h4v1h-4zM112 394h1v1h-1zM115 394h1v1h-1zM122 394h2v1h-2zM126 394h2v1h-2zM129 394h1v1h-1zM133 394h1v1h-1zM139 394h1v1h-1zM159 394h1v1h-1zM47 395h28v1h-28zM76 395h2v1h-2zM79 395h9v1h-9zM90 395h2v1h-2zM98 395h1v1h-1zM102 395h4v1h-4zM107 395h1v1h-1zM110 395h1v1h-1zM113 395h3v1h-3zM117 395h2v1h-2zM120 395h1v1h-1zM124 395h1v1h-1zM48 396h34v1h-34zM83 396h3v1h-3zM88 396h1v1h-1zM91 396h1v1h-1zM93 396h1v1h-1zM96 396h1v1h-1zM100 396h3v1h-3zM105 396h2v1h-2zM108 396h1v1h-1zM112 396h1v1h-1zM114 396h1v1h-1zM116 396h1v1h-1zM125 396h1v1h-1zM127 396h1v1h-1zM139 396h1v1h-1zM142 396h1v1h-1zM48 397h26v1h-26zM75 397h5v1h-5zM81 397h3v1h-3zM86 397h1v1h-1zM88 397h1v1h-1zM92 397h1v1h-1zM94 397h1v1h-1zM96 397h2v1h-2zM99 397h4v1h-4zM104 397h3v1h-3zM108 397h1v1h-1zM110 397h1v1h-1zM112 397h3v1h-3zM119 397h2v1h-2zM123 397h1v1h-1zM141 397h1v1h-1zM48 398h21v1h-21zM70 398h4v1h-4zM76 398h1v1h-1zM78 398h5v1h-5zM84 398h3v1h-3zM88 398h2v1h-2zM92 398h1v1h-1zM94 398h2v1h-2zM97 398h4v1h-4zM102 398h2v1h-2zM106 398h2v1h-2zM109 398h3v1h-3zM113 398h2v1h-2zM117 398h1v1h-1zM119 398h2v1h-2zM136 398h1v1h-1zM156 398h1v1h-1zM47 399h30v1h-30zM78 399h7v1h-7zM86 399h1v1h-1zM88 399h1v1h-1zM91 399h2v1h-2zM94 399h1v1h-1zM96 399h7v1h-7zM104 399h4v1h-4zM109 399h1v1h-1zM112 399h1v1h-1zM115 399h1v1h-1zM118 399h2v1h-2zM121 399h1v1h-1zM123 399h1v1h-1zM47 400h23v1h-23zM71 400h2v1h-2zM75 400h1v1h-1zM77 400h6v1h-6zM84 400h2v1h-2zM89 400h6v1h-6zM96 400h1v1h-1zM98 400h7v1h-7zM106 400h2v1h-2zM110 400h2v1h-2zM113 400h1v1h-1zM115 400h1v1h-1zM118 400h1v1h-1zM120 400h1v1h-1zM122 400h1v1h-1zM124 400h2v1h-2zM130 400h1v1h-1zM139 400h1v1h-1zM48 401h21v1h-21zM70 401h3v1h-3zM75 401h4v1h-4zM80 401h3v1h-3zM84 401h5v1h-5zM90 401h1v1h-1zM95 401h3v1h-3zM100 401h2v1h-2zM104 401h5v1h-5zM110 401h3v1h-3zM114 401h2v1h-2zM117 401h1v1h-1zM119 401h2v1h-2zM122 401h2v1h-2zM126 401h2v1h-2zM141 401h1v1h-1zM48 402h25v1h-25zM74 402h3v1h-3zM79 402h4v1h-4zM84 402h1v1h-1zM86 402h6v1h-6zM96 402h1v1h-1zM99 402h1v1h-1zM101 402h4v1h-4zM109 402h7v1h-7zM117 402h1v1h-1zM119 402h1v1h-1zM121 402h3v1h-3zM125 402h1v1h-1zM127 402h1v1h-1zM131 402h1v1h-1zM47 403h34v1h-34zM82 403h4v1h-4zM88 403h4v1h-4zM94 403h1v1h-1zM96 403h1v1h-1zM99 403h1v1h-1zM101 403h4v1h-4zM106 403h1v1h-1zM108 403h1v1h-1zM111 403h3v1h-3zM115 403h3v1h-3zM124 403h1v1h-1zM134 403h1v1h-1zM48 404h25v1h-25zM74 404h3v1h-3zM78 404h4v1h-4zM83 404h1v1h-1zM86 404h4v1h-4zM95 404h1v1h-1zM97 404h2v1h-2zM100 404h3v1h-3zM105 404h1v1h-1zM108 404h1v1h-1zM111 404h3v1h-3zM115 404h2v1h-2zM123 404h1v1h-1zM125 404h1v1h-1zM127 404h2v1h-2zM131 404h2v1h-2zM48 405h24v1h-24zM73 405h3v1h-3zM77 405h3v1h-3zM82 405h3v1h-3zM88 405h4v1h-4zM97 405h3v1h-3zM101 405h1v1h-1zM103 405h2v1h-2zM108 405h3v1h-3zM112 405h5v1h-5zM118 405h1v1h-1zM124 405h2v1h-2zM127 405h1v1h-1zM129 405h1v1h-1zM47 406h20v1h-20zM69 406h7v1h-7zM77 406h3v1h-3zM81 406h1v1h-1zM83 406h6v1h-6zM90 406h5v1h-5zM98 406h3v1h-3zM103 406h1v1h-1zM106 406h1v1h-1zM108 406h5v1h-5zM114 406h2v1h-2zM117 406h3v1h-3zM129 406h1v1h-1zM47 407h25v1h-25zM73 407h5v1h-5zM79 407h3v1h-3zM83 407h2v1h-2zM87 407h9v1h-9zM97 407h2v1h-2zM100 407h1v1h-1zM102 407h3v1h-3zM106 407h11v1h-11zM119 407h4v1h-4zM125 407h2v1h-2zM47 408h23v1h-23zM72 408h4v1h-4zM77 408h1v1h-1zM82 408h4v1h-4zM88 408h1v1h-1zM94 408h1v1h-1zM96 408h3v1h-3zM100 408h1v1h-1zM102 408h1v1h-1zM105 408h3v1h-3zM109 408h1v1h-1zM111 408h4v1h-4zM116 408h1v1h-1zM119 408h3v1h-3zM123 408h1v1h-1zM129 408h1v1h-1zM46 409h1v1h-1zM48 409h21v1h-21zM71 409h4v1h-4zM77 409h1v1h-1zM79 409h5v1h-5zM85 409h1v1h-1zM88 409h1v1h-1zM90 409h1v1h-1zM93 409h1v1h-1zM95 409h1v1h-1zM97 409h3v1h-3zM101 409h1v1h-1zM103 409h2v1h-2zM106 409h4v1h-4zM111 409h2v1h-2zM114 409h5v1h-5zM125 409h1v1h-1zM46 410h1v1h-1zM48 410h28v1h-28zM77 410h4v1h-4zM82 410h3v1h-3zM87 410h1v1h-1zM89 410h1v1h-1zM91 410h3v1h-3zM95 410h6v1h-6zM102 410h7v1h-7zM110 410h2v1h-2zM113 410h1v1h-1zM116 410h2v1h-2zM119 410h3v1h-3zM124 410h1v1h-1zM46 411h25v1h-25zM74 411h1v1h-1zM76 411h1v1h-1zM79 411h1v1h-1zM81 411h2v1h-2zM84 411h2v1h-2zM88 411h2v1h-2zM92 411h3v1h-3zM96 411h3v1h-3zM100 411h5v1h-5zM106 411h6v1h-6zM113 411h1v1h-1zM116 411h2v1h-2zM47 412h21v1h-21zM69 412h5v1h-5zM75 412h5v1h-5zM88 412h1v1h-1zM90 412h1v1h-1zM92 412h1v1h-1zM95 412h1v1h-1zM97 412h4v1h-4zM103 412h5v1h-5zM109 412h1v1h-1zM111 412h5v1h-5zM126 412h1v1h-1zM47 413h24v1h-24zM72 413h1v1h-1zM74 413h1v1h-1zM76 413h2v1h-2zM80 413h2v1h-2zM83 413h2v1h-2zM86 413h2v1h-2zM90 413h1v1h-1zM92 413h1v1h-1zM94 413h5v1h-5zM101 413h11v1h-11zM113 413h1v1h-1zM116 413h1v1h-1zM47 414h23v1h-23zM71 414h10v1h-10zM85 414h1v1h-1zM89 414h1v1h-1zM96 414h1v1h-1zM98 414h1v1h-1zM103 414h13v1h-13zM47 415h18v1h-18zM66 415h3v1h-3zM70 415h1v1h-1zM72 415h4v1h-4zM77 415h1v1h-1zM82 415h1v1h-1zM84 415h1v1h-1zM91 415h1v1h-1zM93 415h3v1h-3zM97 415h9v1h-9zM107 415h3v1h-3zM111 415h1v1h-1zM113 415h1v1h-1zM46 416h25v1h-25zM72 416h1v1h-1zM78 416h1v1h-1zM92 416h2v1h-2zM96 416h13v1h-13zM110 416h3v1h-3zM118 416h1v1h-1zM121 416h1v1h-1zM46 417h19v1h-19zM66 417h2v1h-2zM69 417h1v1h-1zM71 417h4v1h-4zM76 417h1v1h-1zM91 417h2v1h-2zM94 417h1v1h-1zM97 417h3v1h-3zM101 417h11v1h-11zM47 418h19v1h-19zM67 418h2v1h-2zM71 418h1v1h-1zM73 418h2v1h-2zM93 418h5v1h-5zM99 418h1v1h-1zM101 418h5v1h-5zM107 418h5v1h-5zM47 419h26v1h-26zM74 419h3v1h-3zM91 419h1v1h-1zM94 419h1v1h-1zM96 419h9v1h-9zM107 419h5v1h-5zM47 420h28v1h-28zM76 420h1v1h-1zM93 420h1v1h-1zM95 420h1v1h-1zM97 420h1v1h-1zM99 420h11v1h-11zM112 420h1v1h-1zM48 421h23v1h-23zM72 421h4v1h-4zM91 421h4v1h-4zM96 421h13v1h-13zM110 421h1v1h-1zM46 422h22v1h-22zM69 422h1v1h-1zM71 422h5v1h-5zM93 422h3v1h-3zM97 422h10v1h-10zM108 422h1v1h-1zM46 423h1v1h-1zM48 423h25v1h-25zM74 423h1v1h-1zM92 423h1v1h-1zM94 423h12v1h-12zM110 423h1v1h-1zM122 423h1v1h-1zM46 424h25v1h-25zM72 424h1v1h-1zM89 424h7v1h-7zM97 424h7v1h-7zM48 425h7v1h-7zM56 425h11v1h-11zM68 425h2v1h-2zM88 425h1v1h-1zM91 425h11v1h-11zM106 425h1v1h-1zM47 426h9v1h-9zM57 426h15v1h-15zM89 426h1v1h-1zM91 426h10v1h-10zM48 427h25v1h-25zM90 427h2v1h-2zM93 427h6v1h-6zM101 427h1v1h-1zM120 427h1v1h-1zM47 428h23v1h-23zM71 428h3v1h-3zM85 428h1v1h-1zM88 428h4v1h-4zM93 428h5v1h-5zM47 429h22v1h-22zM70 429h1v1h-1zM86 429h1v1h-1zM88 429h8v1h-8zM99 429h1v1h-1zM103 429h2v1h-2zM46 430h1v1h-1zM48 430h21v1h-21zM70 430h1v1h-1zM75 430h1v1h-1zM77 430h2v1h-2zM82 430h1v1h-1zM85 430h2v1h-2zM88 430h7v1h-7zM46 431h20v1h-20zM68 431h6v1h-6zM79 431h1v1h-1zM82 431h4v1h-4zM87 431h7v1h-7zM96 431h1v1h-1zM47 432h23v1h-23zM71 432h3v1h-3zM76 432h2v1h-2zM79 432h1v1h-1zM81 432h7v1h-7zM89 432h4v1h-4zM48 433h24v1h-24zM73 433h6v1h-6zM80 433h1v1h-1zM82 433h2v1h-2zM85 433h6v1h-6zM92 433h1v1h-1zM94 433h1v1h-1zM46 434h30v1h-30zM77 434h4v1h-4zM82 434h7v1h-7zM90 434h1v1h-1zM95 434h2v1h-2zM46 435h1v1h-1zM48 435h29v1h-29zM78 435h8v1h-8zM87 435h1v1h-1zM90 435h1v1h-1zM96 435h1v1h-1zM48 436h20v1h-20zM69 436h5v1h-5zM75 436h3v1h-3zM79 436h3v1h-3zM84 436h2v1h-2zM89 436h1v1h-1zM92 436h1v1h-1zM46 437h1v1h-1zM48 437h36v1h-36zM96 437h1v1h-1zM48 438h20v1h-20zM69 438h2v1h-2zM72 438h10v1h-10zM88 438h1v1h-1zM47 439h31v1h-31zM80 439h1v1h-1zM82 439h1v1h-1zM84 439h1v1h-1zM47 440h26v1h-26zM74 440h1v1h-1zM77 440h1v1h-1zM81 440h2v1h-2zM86 440h2v1h-2zM46 441h1v1h-1zM48 441h21v1h-21zM73 441h2v1h-2zM77 441h1v1h-1zM48 442h16v1h-16zM65 442h1v1h-1zM109 442h1v1h-1zM46 443h14v1h-14zM77 443h1v1h-1zM47 444h8v1h-8zM57 444h1v1h-1z"/><path fill="#0000ff" d="M157 266h1v1h-1zM160 266h1v1h-1zM77 267h1v1h-1zM142 267h1v1h-1zM160 269h1v1h-1zM96 274h1v1h-1zM105 278h1v1h-1zM134 279h1v1h-1zM146 280h1v1h-1zM65 285h1v1h-1zM86 286h1v1h-1zM103 287h1v1h-1zM120 294h1v1h-1zM132 298h1v1h-1zM156 298h1v1h-1zM118 299h1v1h-1zM86 301h1v1h-1zM125 302h1v1h-1zM143 304h1v1h-1zM122 309h2v1h-2zM132 312h1v1h-1zM90 315h1v1h-1zM108 317h1v1h-1zM147 318h1v1h-1zM74 319h1v1h-1zM96 325h1v1h-1zM92 327h1v1h-1zM121 327h1v1h-1zM67 328h1v1h-1zM96 330h1v1h-1zM126 330h1v1h-1zM132 331h1v1h-1zM155 331h1v1h-1zM89 332h1v1h-1zM140 334h1v1h-1zM64 336h1v1h-1zM77 338h1v1h-1zM70 340h1v1h-1zM153 341h1v1h-1zM71 342h1v1h-1zM70 345h1v1h-1zM130 347h1v1h-1zM90 351h1v1h-1zM155 351h1v1h-1zM138 355h1v1h-1zM133 356h1v1h-1zM146 356h1v1h-1zM111 358h1v1h-1zM136 358h1v1h-1zM155 358h1v1h-1zM59 359h1v1h-1zM120 359h1v1h-1zM143 359h1v1h-1zM139 360h1v1h-1zM141 360h1v1h-1zM139 361h1v1h-1zM138 362h1v1h-1zM125 363h1v1h-1zM148 363h1v1h-1zM156 363h1v1h-1zM131 364h1v1h-1zM138 364h1v1h-1zM141 364h1v1h-1zM75 365h1v1h-1zM116 365h1v1h-1zM121 365h1v1h-1zM132 365h1v1h-1zM103 366h1v1h-1zM120 366h1v1h-1zM133 366h1v1h-1zM114 367h1v1h-1zM126 367h1v1h-1zM142 367h1v1h-1zM148 367h1v1h-1zM113 368h1v1h-1zM128 368h1v1h-1zM131 368h1v1h-1zM144 368h1v1h-1zM107 369h1v1h-1zM125 369h1v1h-1zM127 369h1v1h-1zM133 369h1v1h-1zM139 369h1v1h-1zM67 370h1v1h-1zM110 370h1v1h-1zM119 370h2v1h-2zM124 370h1v1h-1zM128 370h3v1h-3zM140 370h1v1h-1zM153 370h1v1h-1zM102 371h1v1h-1zM116 371h1v1h-1zM134 371h1v1h-1zM136 371h1v1h-1zM140 371h1v1h-1zM142 372h1v1h-1zM145 372h1v1h-1zM100 373h1v1h-1zM103 373h1v1h-1zM107 373h1v1h-1zM112 373h1v1h-1zM123 373h2v1h-2zM127 373h1v1h-1zM133 373h1v1h-1zM78 374h1v1h-1zM87 374h1v1h-1zM99 374h1v1h-1zM102 374h1v1h-1zM115 374h1v1h-1zM121 374h1v1h-1zM126 374h1v1h-1zM150 374h1v1h-1zM89 375h2v1h-2zM116 375h1v1h-1zM118 375h1v1h-1zM89 376h1v1h-1zM99 376h2v1h-2zM103 376h1v1h-1zM107 376h1v1h-1zM111 376h1v1h-1zM114 376h1v1h-1zM122 376h1v1h-1zM125 376h1v1h-1zM127 376h1v1h-1zM130 376h1v1h-1zM139 376h1v1h-1zM74 377h1v1h-1zM78 377h1v1h-1zM97 377h2v1h-2zM105 377h1v1h-1zM113 377h1v1h-1zM117 377h1v1h-1zM123 377h1v1h-1zM126 377h1v1h-1zM128 377h2v1h-2zM131 377h1v1h-1zM134 377h1v1h-1zM145 377h1v1h-1zM104 378h5v1h-5zM120 378h1v1h-1zM125 378h2v1h-2zM134 378h1v1h-1zM97 379h1v1h-1zM113 379h1v1h-1zM116 379h1v1h-1zM120 379h1v1h-1zM123 379h3v1h-3zM129 379h1v1h-1zM131 379h1v1h-1zM133 379h1v1h-1zM136 379h1v1h-1zM78 380h1v1h-1zM97 380h1v1h-1zM99 380h1v1h-1zM102 380h1v1h-1zM104 380h1v1h-1zM111 380h1v1h-1zM114 380h1v1h-1zM117 380h1v1h-1zM127 380h1v1h-1zM130 380h1v1h-1zM134 380h1v1h-1zM143 380h1v1h-1zM94 381h1v1h-1zM99 381h1v1h-1zM101 381h1v1h-1zM107 381h1v1h-1zM114 381h1v1h-1zM116 381h1v1h-1zM118 381h1v1h-1zM120 381h1v1h-1zM129 381h1v1h-1zM91 382h2v1h-2zM96 382h1v1h-1zM106 382h2v1h-2zM110 382h1v1h-1zM112 382h1v1h-1zM114 382h2v1h-2zM117 382h1v1h-1zM120 382h1v1h-1zM131 382h1v1h-1zM84 383h1v1h-1zM106 383h1v1h-1zM108 383h2v1h-2zM111 383h1v1h-1zM116 383h1v1h-1zM119 383h2v1h-2zM123 383h7v1h-7zM133 383h1v1h-1zM88 384h1v1h-1zM100 384h1v1h-1zM107 384h1v1h-1zM109 384h1v1h-1zM114 384h2v1h-2zM118 384h5v1h-5zM136 384h1v1h-1zM85 385h1v1h-1zM90 385h2v1h-2zM95 385h1v1h-1zM103 385h1v1h-1zM105 385h4v1h-4zM110 385h1v1h-1zM114 385h1v1h-1zM116 385h1v1h-1zM119 385h4v1h-4zM124 385h1v1h-1zM126 385h2v1h-2zM85 386h2v1h-2zM91 386h1v1h-1zM94 386h1v1h-1zM97 386h1v1h-1zM99 386h1v1h-1zM102 386h1v1h-1zM105 386h1v1h-1zM111 386h2v1h-2zM115 386h4v1h-4zM121 386h2v1h-2zM124 386h1v1h-1zM78 387h1v1h-1zM80 387h1v1h-1zM86 387h1v1h-1zM90 387h1v1h-1zM92 387h1v1h-1zM97 387h2v1h-2zM105 387h1v1h-1zM107 387h2v1h-2zM111 387h1v1h-1zM114 387h1v1h-1zM117 387h1v1h-1zM120 387h3v1h-3zM94 388h1v1h-1zM98 388h3v1h-3zM102 388h3v1h-3zM106 388h1v1h-1zM110 388h1v1h-1zM112 388h1v1h-1zM117 388h2v1h-2zM120 388h3v1h-3zM125 388h1v1h-1zM133 388h1v1h-1zM148 388h1v1h-1zM74 389h1v1h-1zM77 389h1v1h-1zM82 389h1v1h-1zM89 389h2v1h-2zM95 389h1v1h-1zM99 389h1v1h-1zM102 389h1v1h-1zM106 389h1v1h-1zM108 389h1v1h-1zM111 389h1v1h-1zM116 389h1v1h-1zM118 389h4v1h-4zM123 389h1v1h-1zM126 389h1v1h-1zM135 389h1v1h-1zM84 390h1v1h-1zM97 390h1v1h-1zM101 390h2v1h-2zM106 390h1v1h-1zM110 390h3v1h-3zM116 390h2v1h-2zM124 390h1v1h-1zM157 390h1v1h-1zM70 391h1v1h-1zM78 391h2v1h-2zM86 391h1v1h-1zM89 391h1v1h-1zM94 391h1v1h-1zM96 391h1v1h-1zM98 391h1v1h-1zM100 391h3v1h-3zM105 391h2v1h-2zM110 391h1v1h-1zM112 391h1v1h-1zM114 391h1v1h-1zM116 391h2v1h-2zM122 391h2v1h-2zM126 391h1v1h-1zM128 391h1v1h-1zM144 391h1v1h-1zM71 392h1v1h-1zM76 392h1v1h-1zM80 392h1v1h-1zM86 392h1v1h-1zM94 392h1v1h-1zM99 392h5v1h-5zM105 392h2v1h-2zM109 392h2v1h-2zM117 392h1v1h-1zM120 392h1v1h-1zM122 392h2v1h-2zM133 392h1v1h-1zM67 393h1v1h-1zM76 393h1v1h-1zM80 393h1v1h-1zM83 393h2v1h-2zM90 393h1v1h-1zM94 393h2v1h-2zM98 393h1v1h-1zM102 393h1v1h-1zM104 393h2v1h-2zM110 393h1v1h-1zM112 393h1v1h-1zM115 393h1v1h-1zM119 393h2v1h-2zM122 393h1v1h-1zM143 393h1v1h-1zM66 394h1v1h-1zM71 394h1v1h-1zM76 394h1v1h-1zM79 394h1v1h-1zM86 394h1v1h-1zM88 394h3v1h-3zM92 394h2v1h-2zM98 394h1v1h-1zM101 394h1v1h-1zM103 394h1v1h-1zM105 394h1v1h-1zM110 394h2v1h-2zM113 394h1v1h-1zM116 394h1v1h-1zM118 394h2v1h-2zM124 394h1v1h-1zM140 394h1v1h-1zM151 394h1v1h-1zM75 395h1v1h-1zM78 395h1v1h-1zM88 395h2v1h-2zM92 395h6v1h-6zM99 395h3v1h-3zM106 395h1v1h-1zM108 395h1v1h-1zM111 395h2v1h-2zM119 395h1v1h-1zM123 395h1v1h-1zM130 395h1v1h-1zM82 396h1v1h-1zM86 396h2v1h-2zM89 396h2v1h-2zM92 396h1v1h-1zM94 396h2v1h-2zM97 396h3v1h-3zM103 396h2v1h-2zM107 396h1v1h-1zM109 396h3v1h-3zM115 396h1v1h-1zM118 396h2v1h-2zM124 396h1v1h-1zM126 396h1v1h-1zM144 396h1v1h-1zM74 397h1v1h-1zM80 397h1v1h-1zM84 397h2v1h-2zM87 397h1v1h-1zM89 397h3v1h-3zM93 397h1v1h-1zM95 397h1v1h-1zM98 397h1v1h-1zM103 397h1v1h-1zM107 397h1v1h-1zM109 397h1v1h-1zM111 397h1v1h-1zM115 397h2v1h-2zM127 397h1v1h-1zM69 398h1v1h-1zM74 398h2v1h-2zM77 398h1v1h-1zM83 398h1v1h-1zM87 398h1v1h-1zM90 398h2v1h-2zM93 398h1v1h-1zM96 398h1v1h-1zM101 398h1v1h-1zM105 398h1v1h-1zM108 398h1v1h-1zM112 398h1v1h-1zM115 398h2v1h-2zM122 398h1v1h-1zM126 398h1v1h-1zM77 399h1v1h-1zM85 399h1v1h-1zM87 399h1v1h-1zM89 399h2v1h-2zM93 399h1v1h-1zM95 399h1v1h-1zM103 399h1v1h-1zM108 399h1v1h-1zM110 399h2v1h-2zM113 399h2v1h-2zM117 399h1v1h-1zM120 399h1v1h-1zM122 399h1v1h-1zM125 399h1v1h-1zM70 400h1v1h-1zM73 400h2v1h-2zM76 400h1v1h-1zM83 400h1v1h-1zM86 400h3v1h-3zM95 400h1v1h-1zM97 400h1v1h-1zM105 400h1v1h-1zM108 400h2v1h-2zM112 400h1v1h-1zM69 401h1v1h-1zM73 401h2v1h-2zM79 401h1v1h-1zM83 401h1v1h-1zM89 401h1v1h-1zM91 401h4v1h-4zM98 401h2v1h-2zM102 401h2v1h-2zM109 401h1v1h-1zM118 401h1v1h-1zM73 402h1v1h-1zM77 402h2v1h-2zM83 402h1v1h-1zM85 402h1v1h-1zM92 402h4v1h-4zM97 402h2v1h-2zM100 402h1v1h-1zM105 402h4v1h-4zM116 402h1v1h-1zM120 402h1v1h-1zM129 402h1v1h-1zM81 403h1v1h-1zM86 403h2v1h-2zM92 403h2v1h-2zM95 403h1v1h-1zM97 403h2v1h-2zM100 403h1v1h-1zM105 403h1v1h-1zM107 403h1v1h-1zM109 403h2v1h-2zM114 403h1v1h-1zM122 403h1v1h-1zM127 403h1v1h-1zM133 403h1v1h-1zM73 404h1v1h-1zM77 404h1v1h-1zM82 404h1v1h-1zM84 404h2v1h-2zM90 404h5v1h-5zM96 404h1v1h-1zM99 404h1v1h-1zM103 404h2v1h-2zM106 404h2v1h-2zM109 404h2v1h-2zM117 404h3v1h-3zM133 404h1v1h-1zM72 405h1v1h-1zM76 405h1v1h-1zM80 405h2v1h-2zM85 405h3v1h-3zM92 405h5v1h-5zM100 405h1v1h-1zM102 405h1v1h-1zM105 405h3v1h-3zM111 405h1v1h-1zM119 405h1v1h-1zM121 405h1v1h-1zM67 406h2v1h-2zM76 406h1v1h-1zM80 406h1v1h-1zM82 406h1v1h-1zM89 406h1v1h-1zM95 406h3v1h-3zM101 406h2v1h-2zM104 406h2v1h-2zM107 406h1v1h-1zM72 407h1v1h-1zM78 407h1v1h-1zM82 407h1v1h-1zM85 407h2v1h-2zM96 407h1v1h-1zM99 407h1v1h-1zM101 407h1v1h-1zM105 407h1v1h-1zM127 407h1v1h-1zM70 408h2v1h-2zM76 408h1v1h-1zM78 408h4v1h-4zM86 408h2v1h-2zM89 408h5v1h-5zM95 408h1v1h-1zM99 408h1v1h-1zM101 408h1v1h-1zM103 408h2v1h-2zM110 408h1v1h-1zM115 408h1v1h-1zM117 408h1v1h-1zM69 409h2v1h-2zM75 409h2v1h-2zM78 409h1v1h-1zM84 409h1v1h-1zM86 409h2v1h-2zM89 409h1v1h-1zM91 409h2v1h-2zM94 409h1v1h-1zM96 409h1v1h-1zM100 409h1v1h-1zM102 409h1v1h-1zM105 409h1v1h-1zM110 409h1v1h-1zM76 410h1v1h-1zM81 410h1v1h-1zM85 410h2v1h-2zM88 410h1v1h-1zM90 410h1v1h-1zM94 410h1v1h-1zM101 410h1v1h-1zM109 410h1v1h-1zM114 410h1v1h-1zM71 411h3v1h-3zM75 411h1v1h-1zM77 411h2v1h-2zM80 411h1v1h-1zM83 411h1v1h-1zM86 411h2v1h-2zM90 411h2v1h-2zM95 411h1v1h-1zM99 411h1v1h-1zM105 411h1v1h-1zM68 412h1v1h-1zM74 412h1v1h-1zM80 412h8v1h-8zM89 412h1v1h-1zM91 412h1v1h-1zM93 412h2v1h-2zM96 412h1v1h-1zM101 412h2v1h-2zM108 412h1v1h-1zM110 412h1v1h-1zM71 413h1v1h-1zM73 413h1v1h-1zM75 413h1v1h-1zM78 413h2v1h-2zM82 413h1v1h-1zM85 413h1v1h-1zM88 413h2v1h-2zM91 413h1v1h-1zM93 413h1v1h-1zM99 413h2v1h-2zM114 413h1v1h-1zM70 414h1v1h-1zM81 414h4v1h-4zM86 414h3v1h-3zM90 414h6v1h-6zM97 414h1v1h-1zM99 414h4v1h-4zM65 415h1v1h-1zM69 415h1v1h-1zM71 415h1v1h-1zM76 415h1v1h-1zM78 415h4v1h-4zM83 415h1v1h-1zM85 415h6v1h-6zM92 415h1v1h-1zM96 415h1v1h-1zM106 415h1v1h-1zM110 415h1v1h-1zM112 415h1v1h-1zM114 415h1v1h-1zM71 416h1v1h-1zM73 416h5v1h-5zM79 416h13v1h-13zM94 416h2v1h-2zM109 416h1v1h-1zM65 417h1v1h-1zM68 417h1v1h-1zM70 417h1v1h-1zM75 417h1v1h-1zM77 417h14v1h-14zM93 417h1v1h-1zM95 417h2v1h-2zM100 417h1v1h-1zM66 418h1v1h-1zM69 418h2v1h-2zM72 418h1v1h-1zM75 418h18v1h-18zM98 418h1v1h-1zM100 418h1v1h-1zM106 418h1v1h-1zM73 419h1v1h-1zM77 419h14v1h-14zM92 419h2v1h-2zM95 419h1v1h-1zM105 419h2v1h-2zM75 420h1v1h-1zM77 420h16v1h-16zM94 420h1v1h-1zM96 420h1v1h-1zM98 420h1v1h-1zM110 420h1v1h-1zM71 421h1v1h-1zM76 421h15v1h-15zM95 421h1v1h-1zM68 422h1v1h-1zM70 422h1v1h-1zM76 422h17v1h-17zM96 422h1v1h-1zM73 423h1v1h-1zM75 423h17v1h-17zM93 423h1v1h-1zM71 424h1v1h-1zM73 424h16v1h-16zM96 424h1v1h-1zM55 425h1v1h-1zM67 425h1v1h-1zM70 425h18v1h-18zM89 425h2v1h-2zM56 426h1v1h-1zM72 426h17v1h-17zM90 426h1v1h-1zM73 427h17v1h-17zM92 427h1v1h-1zM70 428h1v1h-1zM74 428h11v1h-11zM86 428h2v1h-2zM92 428h1v1h-1zM69 429h1v1h-1zM71 429h15v1h-15zM87 429h1v1h-1zM69 430h1v1h-1zM71 430h4v1h-4zM76 430h1v1h-1zM79 430h3v1h-3zM83 430h2v1h-2zM87 430h1v1h-1zM66 431h2v1h-2zM74 431h5v1h-5zM80 431h2v1h-2zM86 431h1v1h-1zM70 432h1v1h-1zM74 432h2v1h-2zM78 432h1v1h-1zM80 432h1v1h-1zM88 432h1v1h-1zM72 433h1v1h-1zM79 433h1v1h-1zM81 433h1v1h-1zM84 433h1v1h-1zM76 434h1v1h-1zM81 434h1v1h-1zM89 434h1v1h-1zM77 435h1v1h-1zM86 435h1v1h-1zM68 436h1v1h-1zM74 436h1v1h-1zM78 436h1v1h-1zM82 436h2v1h-2zM68 438h1v1h-1zM71 438h1v1h-1z"/></g>
<rect x="37" y="263.3" width="124.8" height="182.4" fill="none" stroke="#000" stroke-width="3"/>
<path d="M36.6 447 V450.5" stroke="#000" stroke-width="1.2"/>
<text x="37.2" y="463.0" font-size="9.7" font-weight="bold" text-anchor="middle" >0</text>
<path d="M33 445.7 H36" stroke="#000" stroke-width="1.2"/>
<text x="32.2" y="449.09999999999997" font-size="9.5" text-anchor="end" style="fill:#444">0</text>
<path d="M61.0 447 V450.5" stroke="#000" stroke-width="1.2"/>
<text x="63.2" y="463.0" font-size="9.7" font-weight="bold" text-anchor="middle" >200</text>
<path d="M33 410.0 H36" stroke="#000" stroke-width="1.2"/>
<text x="26.4" y="413.35999999999996" font-size="9.7" font-weight="bold" text-anchor="end" >200</text>
<path d="M85.4 447 V450.5" stroke="#000" stroke-width="1.2"/>
<text x="87.7" y="463.0" font-size="9.7" font-weight="bold" text-anchor="middle" >400</text>
<path d="M33 374.2 H36" stroke="#000" stroke-width="1.2"/>
<text x="26.4" y="377.61999999999995" font-size="9.7" font-weight="bold" text-anchor="end" >400</text>
<path d="M109.8 447 V450.5" stroke="#000" stroke-width="1.2"/>
<text x="112.4" y="463.0" font-size="9.7" font-weight="bold" text-anchor="middle" >600</text>
<path d="M33 338.5 H36" stroke="#000" stroke-width="1.2"/>
<text x="26.4" y="341.88" font-size="9.7" font-weight="bold" text-anchor="end" >600</text>
<path d="M134.2 447 V450.5" stroke="#000" stroke-width="1.2"/>
<text x="137.0" y="463.0" font-size="9.7" font-weight="bold" text-anchor="middle" >800</text>
<path d="M33 302.7 H36" stroke="#000" stroke-width="1.2"/>
<text x="26.4" y="306.14" font-size="9.7" font-weight="bold" text-anchor="end" >800</text>
<path d="M158.6 447 V450.5" stroke="#000" stroke-width="1.2"/>
<text x="162.4" y="463.0" font-size="9.7" font-weight="bold" text-anchor="middle" >1000</text>
<path d="M33 267.0 H36" stroke="#000" stroke-width="1.2"/>
<text x="28.3" y="270.4" font-size="9.7" font-weight="bold" text-anchor="end" >1000</text>
<text x="101" y="476" font-size="10" font-weight="bold" text-anchor="middle" >FSC-H</text>
<text transform="translate(9.6,366) rotate(-90)" font-size="10" font-weight="bold">SSC-H</text>
<rect x="173.2" y="254.4" width="7.4" height="12.2" fill="#1e3cf0" stroke="#111" stroke-width="1.3"/>
<rect x="173.2" y="273.6" width="7.4" height="14.6" fill="#ef2a14" stroke="#111" stroke-width="1.3"/>
<text x="187.7" y="266.2" font-size="10.1" font-weight="bold" text-anchor="start" >CD3+CD56+ gate 8.88</text>
<text x="189.8" y="284" font-size="10.1" font-weight="bold" text-anchor="start" >Ungated</text>
<text x="183" y="330" font-size="12.4" font-weight="bold" text-anchor="start" >Large</text>
<text x="183" y="348" font-size="12.4" font-weight="bold" text-anchor="start" >granular</text>
<text x="183" y="366" font-size="12.4" font-weight="bold" text-anchor="start" >lymphocytes</text>
<text x="183" y="409" font-size="12.4" font-weight="bold" text-anchor="start" >Normal small</text>
<text x="183" y="427" font-size="12.4" font-weight="bold" text-anchor="start" >lymphocytes</text>
<path d="M180.4 338.8 L120 391.7" stroke="#000" stroke-width="1.5"/>
<path d="M116.7 394.6 L120.1 387.6 L124.1 392.2 Z" fill="#000"/>
<path d="M172.5 417.6 H93" stroke="#000" stroke-width="1.8"/>
<path d="M89.2 417.6 L95 414.6 L95 420.6 Z" fill="#000"/>
<text x="313.6" y="233.7" font-size="25.5" font-weight="bold" text-anchor="start" >D</text>
<text transform="translate(322.6,462.4) rotate(-90)" font-size="9.5" font-weight="bold" textLength="223" lengthAdjust="spacingAndGlyphs">Mean % of cells expressing perforin and granzyme B</text>
<path d="M351.2 253.7 V451.2" stroke="#888" stroke-width="1.6"/>
<path d="M350.4 451.7 H513" stroke="#8a8a8a" stroke-width="1.8"/>
<path d="M348.2 451.2 H351.2" stroke="#888" stroke-width="1.1"/>
<text x="343.3" y="454.2" font-size="10.3" font-weight="bold" text-anchor="end" textLength="5.5" lengthAdjust="spacingAndGlyphs">0</text>
<path d="M348.2 431.4 H351.2" stroke="#888" stroke-width="1.1"/>
<text x="346.6" y="434.45" font-size="10.3" font-weight="bold" text-anchor="end" textLength="10.9" lengthAdjust="spacingAndGlyphs">10</text>
<path d="M348.2 411.7 H351.2" stroke="#888" stroke-width="1.1"/>
<text x="346.6" y="414.7" font-size="10.3" font-weight="bold" text-anchor="end" textLength="10.9" lengthAdjust="spacingAndGlyphs">20</text>
<path d="M348.2 391.9 H351.2" stroke="#888" stroke-width="1.1"/>
<text x="346.6" y="394.95" font-size="10.3" font-weight="bold" text-anchor="end" textLength="10.9" lengthAdjust="spacingAndGlyphs">30</text>
<path d="M348.2 372.2 H351.2" stroke="#888" stroke-width="1.1"/>
<text x="346.6" y="375.2" font-size="10.3" font-weight="bold" text-anchor="end" textLength="10.9" lengthAdjust="spacingAndGlyphs">40</text>
<path d="M348.2 352.4 H351.2" stroke="#888" stroke-width="1.1"/>
<text x="346.6" y="355.45" font-size="10.3" font-weight="bold" text-anchor="end" textLength="10.9" lengthAdjust="spacingAndGlyphs">50</text>
<path d="M348.2 332.7 H351.2" stroke="#888" stroke-width="1.1"/>
<text x="346.6" y="335.7" font-size="10.3" font-weight="bold" text-anchor="end" textLength="10.9" lengthAdjust="spacingAndGlyphs">60</text>
<path d="M348.2 312.9 H351.2" stroke="#888" stroke-width="1.1"/>
<text x="346.6" y="315.95" font-size="10.3" font-weight="bold" text-anchor="end" textLength="10.9" lengthAdjust="spacingAndGlyphs">70</text>
<path d="M348.2 293.2 H351.2" stroke="#888" stroke-width="1.1"/>
<text x="346.6" y="296.2" font-size="10.3" font-weight="bold" text-anchor="end" textLength="10.9" lengthAdjust="spacingAndGlyphs">80</text>
<path d="M348.2 273.4 H351.2" stroke="#888" stroke-width="1.1"/>
<text x="346.6" y="276.45" font-size="10.3" font-weight="bold" text-anchor="end" textLength="10.9" lengthAdjust="spacingAndGlyphs">90</text>
<path d="M348.2 253.7 H351.2" stroke="#888" stroke-width="1.1"/>
<text x="346.6" y="256.7" font-size="10.3" font-weight="bold" text-anchor="end" textLength="16.4" lengthAdjust="spacingAndGlyphs">100</text>
<path d="M352 451.7 V455" stroke="#888" stroke-width="1.2"/>
<path d="M432.8 451.7 V455" stroke="#888" stroke-width="1.2"/>
<path d="M512.5 451.7 V455" stroke="#888" stroke-width="1.2"/>
<rect x="368.8" y="348.5" width="23.5" height="102.7" fill="#000"/>
<path d="M380 309.0 V348.5 M377 309.0 H383" stroke="#000" stroke-width="1.5"/>
<rect x="392.3" y="345.5" width="23.099999999999966" height="105.7" fill="#fff" stroke="#000" stroke-width="1.2"/>
<path d="M403.7 304.1 V387.0 M400.7 304.1 H406.7" stroke="#000" stroke-width="1.5"/>
<path d="M400.7 387.0 H406.7" stroke="#000" stroke-width="1.5"/>
<rect x="449.9" y="283.3" width="23.200000000000045" height="167.9" fill="#000"/>
<path d="M461 265.0 V283.3 M458 265.0 H464" stroke="#000" stroke-width="1.5"/>
<rect x="473.1" y="364.7" width="22.899999999999977" height="86.5" fill="#fff" stroke="#000" stroke-width="1.2"/>
<path d="M484.5 325.2 V404.8 M481.5 325.2 H487.5" stroke="#000" stroke-width="1.5"/>
<path d="M481.5 404.8 H487.5" stroke="#000" stroke-width="1.5"/>
<path d="M459 260.5 Q459 258.5 461 258.5 H502.6 Q504.6 258.5 504.6 260.5" fill="none" stroke="#000" stroke-width="1.8"/>
<text x="466" y="255.4" font-size="9.05"><tspan font-style="italic">P</tspan> = .001</text>
<text x="392.5" y="476.3" font-size="10" font-weight="bold" text-anchor="middle" >CD3+56+</text>
<text x="482.7" y="476.3" font-size="10" font-weight="bold" text-anchor="middle" >CD3+SSC-High</text>
</svg>
</body></html>
